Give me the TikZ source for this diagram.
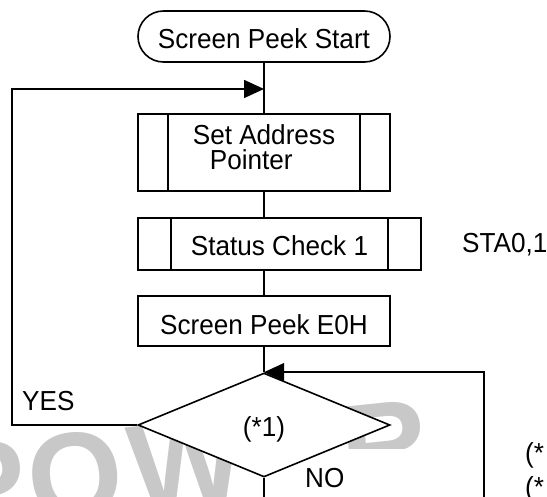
\documentclass[tikz,border=0pt]{standalone}
\usepackage{fontspec}
\setmainfont{Liberation Sans}[FakeStretch=0.95]
\newfontfamily\wmfont{Liberation Sans}
\usetikzlibrary{shapes.geometric,arrows.meta,calc}
\definecolor{wmgray}{RGB}{200,200,200}
\begin{document}
\begin{tikzpicture}[x=1pt,y=-1pt,
  ln/.style={line width=1.6pt},
  mainfont/.style={font=\fontsize{27.5}{25}\selectfont},
  box/.style={draw,line width=1.6pt,fill=white,inner sep=0pt,minimum height=52pt,mainfont},
  txt/.style={inner sep=0pt,mainfont},
  arr/.style={ln,-{Triangle[length=20pt,width=18pt]}},
  wm/.style={inner sep=0pt,text=wmgray,font=\wmfont\bfseries\fontsize{122}{122}\selectfont,rotate=6}
]
\clip (0,0) rectangle (547,497);
\fill[white] (0,0) rectangle (547,497);

% watermark
\node[wm] (wP) at (-14,485) {P};
\node[wm] (wO) at (75.5,476) {O};
\node[wm] (wW) at (186,464) {W};
\begin{scope}
  \clip (330,395) rectangle (440,449);
  \node[wm] (wR) at (385,445) {R};
\end{scope}

% nodes
\node[box,rounded corners=25.5pt,minimum width=252pt,minimum height=51pt,text height=24pt] (start) at (264,36.5) {Screen Peek Start};
\node[box,minimum width=252pt,minimum height=77pt,align=left,text depth=10pt] (sap) at (264,152.5) {Set Address\\\hspace*{17pt}Pointer};
\node[box,minimum width=283pt,text height=24pt] (sc1) at (279.5,244) {Status Check 1};
\node[box,minimum width=252pt,minimum height=50pt,text height=27pt] (spe) at (264,321) {Screen Peek E0H};
\node[draw,ln,diamond,fill=white,minimum width=252pt,minimum height=104pt,inner sep=0pt,mainfont,text height=29pt] (dia) at (264,425) {(*1)};

% sub-process side bars
\draw[ln] ($(sap.north west)+(31,0)$) -- ($(sap.south west)+(31,0)$);
\draw[ln] ($(sap.north east)+(-31,0)$) -- ($(sap.south east)+(-31,0)$);
\draw[ln] ($(sc1.north west)+(34,0)$) -- ($(sc1.south west)+(34,0)$);
\draw[ln] ($(sc1.north east)+(-34,0)$) -- ($(sc1.south east)+(-34,0)$);

% coordinates
\coordinate (jt) at (264,89);
\coordinate (yl) at (12,425);
\coordinate (bot) at (264,497);
\coordinate (rb) at (484,497);

% connectors
\draw[ln] (start.south) -- (sap.north);
\draw[ln] (sap.south) -- (sap.south |- sc1.north);
\draw[ln] (sap.south |- sc1.south) -- (spe.north);
\draw[ln] (spe.south) -- (dia.north);
\draw[ln] (dia.south) -- (bot);
\draw[arr] (dia.west) -- (yl) |- (jt);
\draw[arr] (rb) |- (dia.north);

% labels
\node[txt,anchor=base west] (sta) at (462,253) {STA0,1};
\node[txt,anchor=base west] (yes) at (22,410) {YES};
\node[txt,anchor=base west] (no) at (305,487) {NO};
\node[txt,anchor=base west] (n1) at (525,462.5) {(*};
\node[txt,anchor=base west] (n2) at (525,496.5) {(*};
\end{tikzpicture}
\end{document}
